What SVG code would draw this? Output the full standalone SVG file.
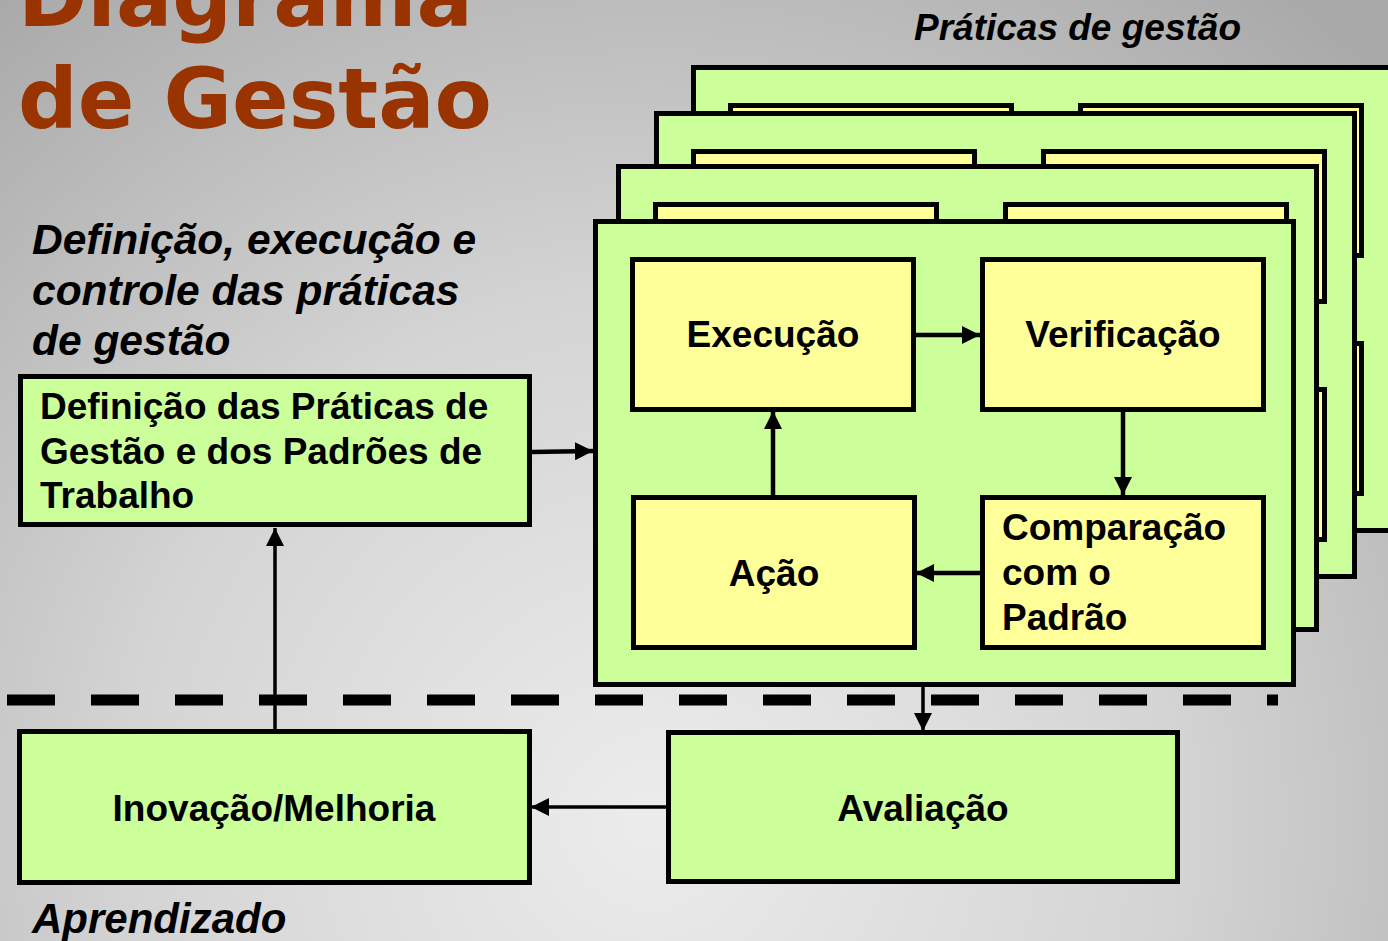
<svg xmlns="http://www.w3.org/2000/svg" xmlns:xlink="http://www.w3.org/1999/xlink" width="1388" height="941" viewBox="0 0 1388 941">
<defs>
<radialGradient id="bg" gradientUnits="userSpaceOnUse" cx="650" cy="820" r="1050">
<stop offset="0" stop-color="#ececec"/>
<stop offset="0.5" stop-color="#d4d4d4"/>
<stop offset="1" stop-color="#a9a9a9"/>
</radialGradient>
<marker id="ah" viewBox="0 0 18 18" refX="18" refY="9" markerWidth="18" markerHeight="18" markerUnits="userSpaceOnUse" orient="auto">
<path d="M0,0 L18,9 L0,18 Z" fill="#000"/>
</marker>
<g id="cardTpl">
<rect class="card" x="2.5" y="2.5" width="698" height="463"/>
<rect class="inner" x="39.5" y="40.5" width="281" height="150"/>
<rect class="inner" x="389.5" y="40.5" width="281" height="150"/>
<rect class="inner" x="39.5" y="278.5" width="281" height="150"/>
<rect class="inner" x="389.5" y="278.5" width="281" height="150"/>
</g>
</defs>
<style>
.card{fill:#ccff99;stroke:#000;stroke-width:5}
.inner{fill:#ffff99;stroke:#000;stroke-width:5}
.box{fill:#ccff99;stroke:#000;stroke-width:5}
.lbl{font-family:"Liberation Sans",Arial,sans-serif;font-weight:bold;font-size:37px;fill:#000}
.ital{font-family:"Liberation Sans",Arial,sans-serif;font-weight:bold;font-style:italic;fill:#000}
.title{font-family:"DejaVu Sans",Verdana,sans-serif;font-weight:bold;font-size:83.5px;fill:#993300}
.conn{stroke:#000;stroke-width:4.5;fill:none;marker-end:url(#ah)}
.connThin{stroke:#000;stroke-width:3.5;fill:none;marker-end:url(#ah)}
</style>
<rect x="0" y="0" width="1388" height="941" fill="url(#bg)"/>

<g id="title">
<text class="title" x="18" y="26">Diagrama</text>
<text class="title" x="18" y="128">de Gestão</text>
</g>

<text class="ital" x="914" y="40" font-size="37">Práticas de gestão</text>
<g id="caption-left">
<text class="ital" x="32" y="254" font-size="42.5">Definição, execução e</text>
<text class="ital" x="32" y="305" font-size="42.5">controle das práticas</text>
<text class="ital" x="32" y="355" font-size="42.5">de gestão</text>
</g>
<text class="ital" x="32" y="933" font-size="42">Aprendizado</text>

<g id="card-back-1"><use xlink:href="#cardTpl" href="#cardTpl" transform="translate(691,65)"/></g>
<g id="card-back-2"><use xlink:href="#cardTpl" href="#cardTpl" transform="translate(654,111)"/></g>
<g id="card-back-3"><use xlink:href="#cardTpl" href="#cardTpl" transform="translate(616,164)"/></g>

<g id="card-front">
<rect class="card" x="595.5" y="221.5" width="698" height="463"/>
</g>
<g id="execucao">
<rect class="inner" x="632.5" y="259.5" width="281" height="150"/>
<text class="lbl" x="773" y="347" text-anchor="middle">Execução</text>
</g>
<g id="verificacao">
<rect class="inner" x="982.5" y="259.5" width="281" height="150"/>
<text class="lbl" x="1123" y="347" text-anchor="middle">Verificação</text>
</g>
<g id="acao">
<rect class="inner" x="633.5" y="497.5" width="281" height="150"/>
<text class="lbl" x="774" y="586" text-anchor="middle">Ação</text>
</g>
<g id="comparacao">
<rect class="inner" x="982.5" y="497.5" width="281" height="150"/>
<text class="lbl" x="1002" y="540">Comparação</text>
<text class="lbl" x="1002" y="585">com o</text>
<text class="lbl" x="1002" y="630">Padrão</text>
</g>

<g id="definicao">
<rect class="box" x="20.5" y="376.5" width="509" height="148"/>
<text class="lbl" x="40" y="419">Definição das Práticas de</text>
<text class="lbl" x="40" y="463.5">Gestão e dos Padrões de</text>
<text class="lbl" x="40" y="508">Trabalho</text>
</g>
<g id="inovacao">
<rect class="box" x="19.5" y="731.5" width="510" height="151"/>
<text class="lbl" x="274" y="821" text-anchor="middle">Inovação/Melhoria</text>
</g>
<g id="avaliacao">
<rect class="box" x="668.5" y="732.5" width="509" height="149"/>
<text class="lbl" x="923" y="821" text-anchor="middle">Avaliação</text>
</g>

<g id="connectors">
<line x1="7" y1="700" x2="1278" y2="700" stroke="#000" stroke-width="11" stroke-dasharray="48 36"/>
<line class="conn" x1="532" y1="452" x2="593" y2="451"/>
<line class="conn" x1="916" y1="335" x2="980" y2="335"/>
<line class="conn" x1="1123" y1="411" x2="1123" y2="495"/>
<line class="conn" x1="980" y1="573" x2="916" y2="573"/>
<line class="conn" x1="773" y1="496" x2="773" y2="411"/>
<line class="connThin" x1="275" y1="731" x2="275" y2="528"/>
<line class="connThin" x1="667" y1="807" x2="531" y2="807"/>
<line class="connThin" x1="923" y1="687" x2="923" y2="731"/>
</g>
</svg>
